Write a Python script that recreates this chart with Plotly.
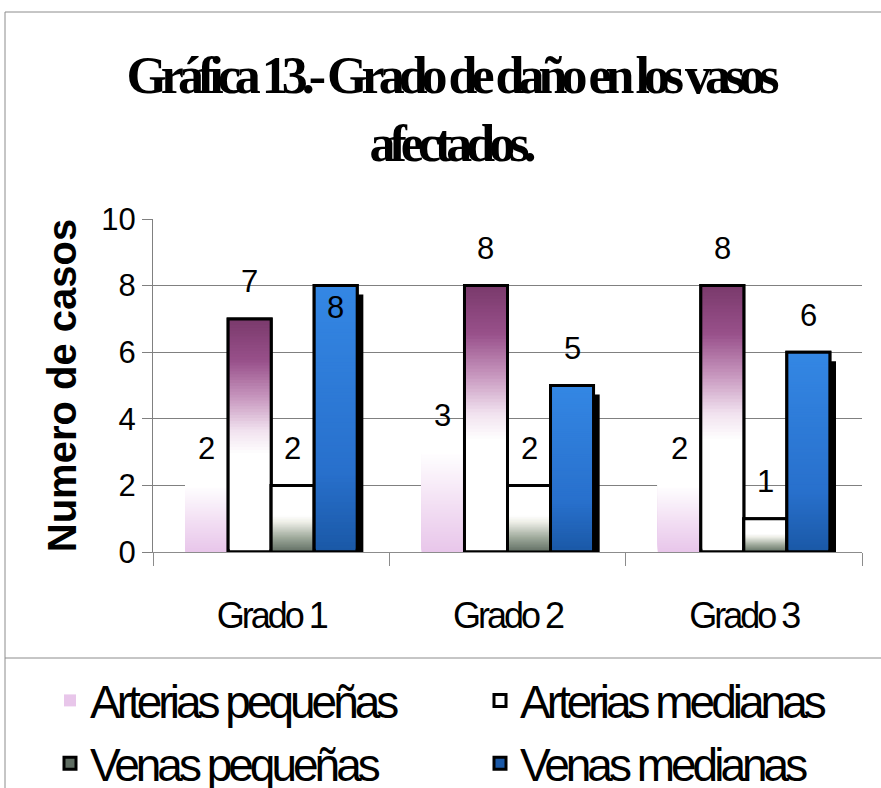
import plotly.graph_objects as go

# ---- data -----------------------------------------------------------------
categories = ["Grado 1", "Grado 2", "Grado 3"]
arterias_pequenas = [2, 3, 2]
arterias_medianas = [7, 8, 8]
venas_pequenas = [2, 2, 1]
venas_medianas = [8, 5, 6]
series_names = ["Arterias pequeñas", "Arterias medianas", "Venas pequeñas", "Venas medianas"]
y_ticks = [0, 2, 4, 6, 8, 10]

# ---- geometry -------------------------------------------------------------
W, H = 881, 788
M_L, M_R, M_T, M_B = 153, 19, 219, 236
PLOT_W = W - M_L - M_R
PLOT_H = H - M_T - M_B


def paper_x(px):
    return (px - M_L) / PLOT_W


def paper_y(py):
    return (H - M_B - py) / PLOT_H


def tight(text, spacing):
    """Wrap text in a span with negative letter spacing (condensed look)."""
    return "<span style='letter-spacing:%spx'>%s</span>" % (spacing, text)


def hex_rgb(h):
    h = h.lstrip("#")
    return tuple(int(h[i:i + 2], 16) for i in (0, 2, 4))


def grad(stops, f):
    """Colour at fraction f (0 = bottom, 1 = top) of a vertical gradient."""
    for (f0, c0), (f1, c1) in zip(stops[:-1], stops[1:]):
        if f0 <= f <= f1:
            t = 0 if f1 == f0 else (f - f0) / (f1 - f0)
            a, b = hex_rgb(c0), hex_rgb(c1)
            return "rgb(%d,%d,%d)" % tuple(round(a[i] + (b[i] - a[i]) * t) for i in range(3))
    return stops[-1][1]


BAR_W = 0.182
N_SLICES = 80
OUTLINE = "#000000"
NARROW = "Liberation Sans, Arial"

series = [
    dict(name=series_names[0], values=arterias_pequenas, line=0, shadow=False,
         stops=[(0, "#e8c6ea"), (0.45, "#f2def3"), (1, "#ffffff")]),
    dict(name=series_names[1], values=arterias_medianas, line=3, shadow=False,
         stops=[(0, "#ffffff"), (0.42, "#ffffff"), (0.52, "#f1e2ef"),
                (0.66, "#c898bf"), (0.82, "#98508a"), (1, "#7a3a6c")]),
    dict(name=series_names[2], values=venas_pequenas, line=3, shadow=False,
         stops=[(0, "#5f6d62"), (0.2, "#9aa597"), (0.45, "#eeefe8"), (0.55, "#ffffff"), (1, "#ffffff")]),
    dict(name=series_names[3], values=venas_medianas, line=3, shadow=True,
         stops=[(0, "#1a58a6"), (0.3, "#2870cc"), (1, "#3487e4")]),
]

fig = go.Figure()

for i, s in enumerate(series):
    off = (i - 2) * BAR_W
    vals = s["values"]
    if s["shadow"]:
        fig.add_trace(go.Bar(
            x=categories, y=[v - 0.27 for v in vals], offset=off + 0.026, width=BAR_W,
            marker=dict(color="#000000", line=dict(width=0)),
            showlegend=False, hoverinfo="skip"))
    # full-height base slice (carries the legend entry)
    fig.add_trace(go.Bar(
        x=categories, y=vals, offset=off, width=BAR_W, name=tight(s["name"], -4),
        marker=dict(color=grad(s["stops"], 0),
                    line=dict(color=OUTLINE, width=s["line"])),
        hovertemplate="%{x}<br>" + s["name"] + ": %{y}<extra></extra>"))
    # gradient slices, each running from its level up to the top of the bar
    for k in range(1, N_SLICES):
        f = k / N_SLICES
        fig.add_trace(go.Bar(
            x=categories, base=[v * f for v in vals], y=[v * (1 - f) for v in vals],
            offset=off, width=BAR_W,
            marker=dict(color=grad(s["stops"], f + 0.5 / N_SLICES), line=dict(width=0)),
            showlegend=False, hoverinfo="skip"))
    if s["line"]:
        fig.add_trace(go.Bar(
            x=categories, y=vals, offset=off, width=BAR_W,
            marker=dict(color="rgba(0,0,0,0)", line=dict(color=OUTLINE, width=s["line"])),
            showlegend=False, hoverinfo="skip"))

# value labels
label_font = dict(family="Liberation Sans, Arial", size=31, color="#000000")
for i, s in enumerate(series):
    off = (i - 2) * BAR_W
    for j, v in enumerate(s["values"]):
        inside = (i == 3 and j == 0)
        fig.add_annotation(
            x=j + off + BAR_W / 2, y=v, xref="x", yref="y", text=str(v),
            showarrow=False, font=label_font, yshift=-22 if inside else 37)

# frame and legend separator
fig.add_shape(type="rect", xref="paper", yref="paper",
              x0=paper_x(5), x1=paper_x(886), y0=paper_y(800), y1=paper_y(12),
              line=dict(color="#8c8c8c", width=1), layer="below")
fig.add_shape(type="line", xref="paper", yref="paper",
              x0=paper_x(5), x1=paper_x(881), y0=paper_y(658), y1=paper_y(658),
              line=dict(color="#8c8c8c", width=1))

fig.update_layout(
    width=W, height=H,
    margin=dict(l=M_L, r=M_R, t=M_T, b=M_B, autoexpand=False),
    paper_bgcolor="#ffffff", plot_bgcolor="#ffffff",
    barmode="overlay",
    title=dict(
        text=tight("Gráfica 13.- Grado de daño en los vasos<br>afectados.", -6),
        font=dict(family="Liberation Serif, Times New Roman", size=52, color="#000000", weight="bold"),
        x=450 / W, xanchor="center", xref="container", y=1 - 93 / H, yanchor="top", yref="container"),
    xaxis=dict(
        type="category", categoryorder="array", categoryarray=categories,
        tickmode="array", tickvals=categories, ticktext=[tight(c, -3) for c in categories],
        range=[-0.5, 2.5], showgrid=False,
        showline=True, linecolor="#8c8c8c", linewidth=1,
        ticks="outside", tickson="boundaries", ticklen=13, tickcolor="#8c8c8c",
        ticklabelstandoff=32,
        tickfont=dict(family=NARROW, size=36, color="#000000"),
    ),
    yaxis=dict(
        range=[0, 10], tickvals=y_ticks, showgrid=True, gridcolor="#808080", gridwidth=1,
        showline=True, linecolor="#808080", linewidth=1, zeroline=False,
        ticks="outside", ticklen=10, tickcolor="#808080",
        tickfont=dict(family="Liberation Sans, Arial", size=31, color="#000000"),
        title=dict(text="Numero de casos", standoff=12,
                   font=dict(family="Liberation Sans, Arial", size=40, color="#000000", weight="bold")),
    ),
    legend=dict(
        orientation="h", x=paper_x(50), xanchor="left", y=paper_y(664), yanchor="top",
        entrywidth=385, entrywidthmode="pixels", tracegroupgap=0, itemclick=False,
        font=dict(family=NARROW, size=46, color="#000000"),
        bgcolor="rgba(0,0,0,0)",
    ),
)

fig.write_html("out.html")
